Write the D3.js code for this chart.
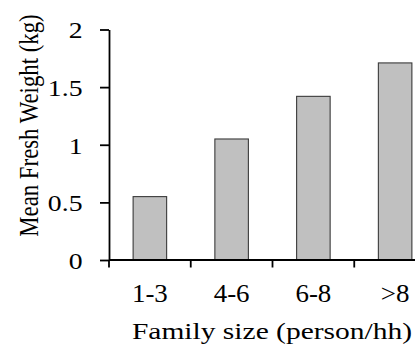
<!DOCTYPE html>
<html>
<head>
<meta charset="utf-8">
<script src="https://cdn.jsdelivr.net/npm/d3@7"></script>
<style>
  html, body { margin: 0; padding: 0; background: #fff; }
  svg { display: block; }
</style>
</head>
<body>
<script>
// ---- data ----
const categories = ["1-3", "4-6", "6-8", ">8"];
const values = [0.55, 1.05, 1.42, 1.71];
const yTicks = [0, 0.5, 1, 1.5, 2];
const yTickLabels = ["0", "0.5", "1", "1.5", "2"];
const xTitle = "Family size (person/hh)";
const yTitle = "Mean Fresh Weight (kg)";

// ---- layout ----
const W = 415, H = 349;
const plotLeft = 109, plotRight = 436, plotTop = 29.5, plotBottom = 260;
const sx = 1.18; // horizontal glyph stretch seen in the reference
const FONT = "'Liberation Serif', 'Times New Roman', Times, serif";

const svg = d3.select("body").append("svg").attr("width", W).attr("height", H);
svg.append("rect").attr("width", W).attr("height", H).attr("fill", "#fff");

const x = d3.scaleBand().domain(categories).range([plotLeft, plotRight])
  .paddingInner(0.59).paddingOuter(0.295);
const y = d3.scaleLinear().domain([0, 2]).range([plotBottom, plotTop]);

// bars
svg.append("g").selectAll("rect").data(values).join("rect")
  .attr("x", (d, i) => x(categories[i]))
  .attr("y", d => y(d))
  .attr("width", x.bandwidth())
  .attr("height", d => y(0) - y(d))
  .attr("fill", "#c0c0c0")
  .attr("stroke", "#3a3a3a")
  .attr("stroke-width", 1.1);

// y axis
const yAxis = svg.append("g").attr("transform", `translate(${plotLeft},0)`)
  .call(d3.axisLeft(y).tickValues(yTicks).tickSize(9).tickSizeOuter(0)
    .tickFormat((d, i) => yTickLabels[i]));
yAxis.attr("font-family", null).attr("font-size", null);
yAxis.select(".domain").attr("stroke", "#000").attr("stroke-width", 1.8);
yAxis.selectAll(".tick line").attr("stroke", "#000").attr("stroke-width", 1.8);
yAxis.selectAll(".tick text")
  .style("font-family", FONT)
  .style("font-size", "23.5px")
  .attr("fill", "#000")
  .attr("x", -26.5 / sx)
  .attr("dy", "0.36em")
  .attr("transform", `scale(${sx},1)`);

// x axis (line + category-boundary ticks + labels)
const xg = svg.append("g").attr("transform", `translate(0,${plotBottom})`);
xg.append("line").attr("x1", plotLeft).attr("x2", plotRight)
  .attr("stroke", "#000").attr("stroke-width", 1.8);
const bounds = d3.range(categories.length + 1).map(i => plotLeft + i * x.step());
xg.selectAll("line.bt").data(bounds).join("line").attr("class", "bt")
  .attr("x1", d => d).attr("x2", d => d).attr("y1", 0).attr("y2", 7.5)
  .attr("stroke", "#000").attr("stroke-width", 1.8);
xg.selectAll("text.xl").data(categories).join("text").attr("class", "xl")
  .attr("transform", d => `translate(${x(d) + x.bandwidth() / 2},42) scale(1.1,1)`)
  .attr("text-anchor", "middle")
  .style("font-family", FONT)
  .style("font-size", "24.5px")
  .text(d => d);

// axis titles
svg.append("text")
  .attr("transform", `translate(272,339) scale(1.24,1)`)
  .attr("text-anchor", "middle")
  .style("font-family", FONT)
  .style("font-size", "23.8px")
  .text(xTitle);

svg.append("text")
  .attr("transform", `translate(38,125.5) scale(1.2,1) rotate(-90)`)
  .attr("text-anchor", "middle")
  .style("font-family", FONT)
  .style("font-size", "22.8px")
  .text(yTitle);
</script>
</body>
</html>
